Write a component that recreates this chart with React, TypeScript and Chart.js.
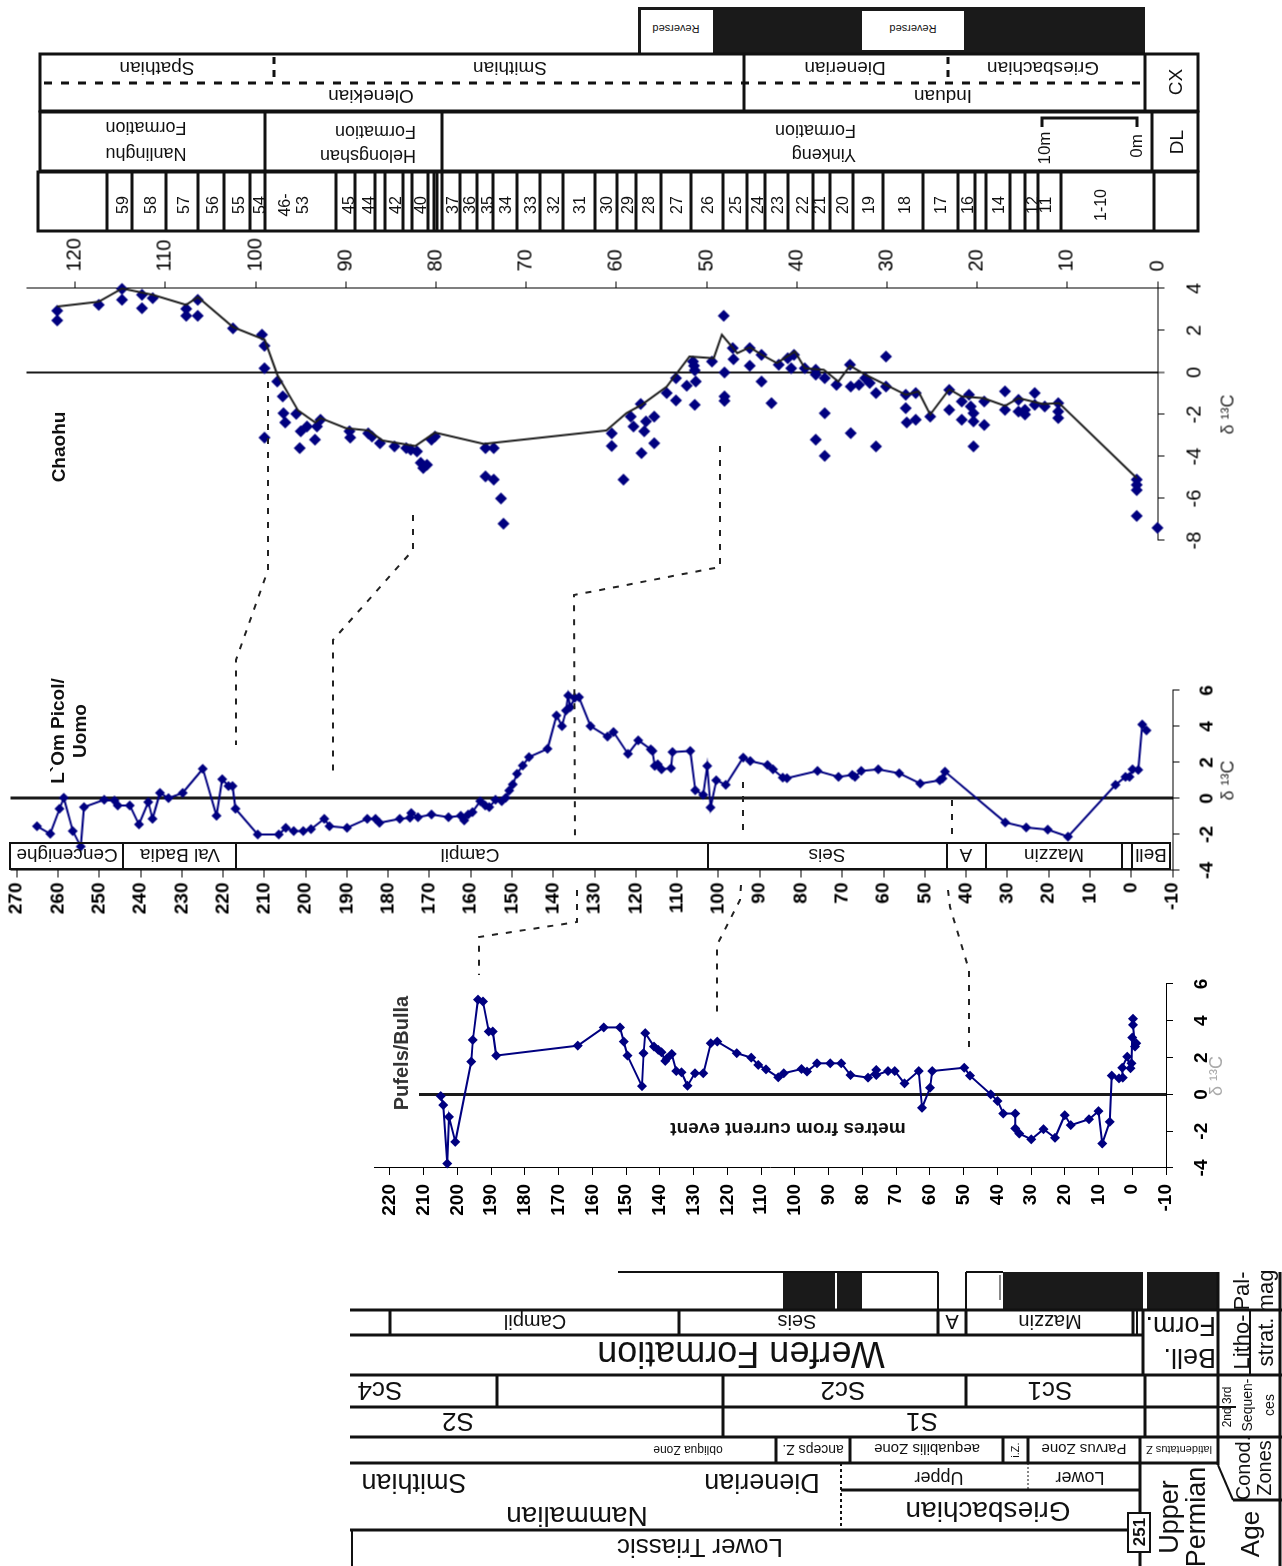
import React, { useEffect, useRef } from "react";
import { Chart, registerables } from "chart.js";
Chart.register(...registerables);

const FONT = "'Liberation Sans', Arial, Helvetica, sans-serif";

// ---------------- DATA ----------------
// Chaohu: [metres, δ13C]
const chaohuSamples: [number, number][] = [
  [122, 2.94], [122, 2.48], [117.4, 3.22], [114.8, 3.98], [114.8, 3.46], [112.6, 3.7], [112.6, 3.06],
  [111.4, 3.54], [107.7, 3.03], [107.7, 2.7], [106.4, 3.46], [106.4, 2.7], [102.5, 2.1], [99.3, 1.8],
  [99.0, 1.27], [99.0, 0.2], [99.0, -3.1], [97.6, -0.43], [97.0, -1.14], [96.9, -1.94], [96.7, -2.38],
  [95.5, -1.97], [95.1, -3.6], [95.0, -2.8], [94.3, -2.57], [93.4, -3.2], [93.2, -2.57], [92.8, -2.25],
  [89.6, -2.8], [89.5, -3.1], [87.5, -2.9], [87.1, -3.05], [86.2, -3.37], [84.6, -3.52], [83.3, -3.6],
  [82.8, -3.68], [82.1, -3.76], [81.7, -4.3], [81.4, -4.55], [81.0, -4.4], [80.5, -3.2], [80.1, -3.05],
  [74.5, -3.6], [73.6, -3.6], [74.5, -4.95], [73.6, -5.1], [72.8, -6.0], [72.5, -7.2], [60.5, -2.9],
  [60.5, -3.5], [59.2, -5.1], [58.4, -2.1], [58.1, -2.57], [57.3, -1.5], [57.2, -3.84], [56.9, -2.8],
  [56.7, -2.33], [55.8, -2.1], [55.8, -3.37], [54.4, -0.98], [53.4, -1.33], [53.4, -0.27], [52.2, -0.63],
  [51.5, 0.52], [51.4, 0.32], [51.3, 0.1], [51.2, -0.43], [51.3, -1.54], [49.4, 0.52], [48.1, 2.7],
  [48.0, 0.0], [48.0, -1.14], [48.0, -1.35], [47.1, 1.16], [47.0, 0.63], [45.2, 1.16], [45.2, 0.32],
  [43.9, 0.84], [43.9, -0.43], [42.8, -1.46], [42.0, 0.37], [41.0, 0.68], [40.6, 0.2], [40.3, 0.84],
  [39.1, 0.2], [37.9, 0.13], [37.9, -0.1], [37.9, -3.2], [36.9, -0.27], [36.9, -1.94], [36.9, -3.97],
  [35.6, -0.59], [34.1, 0.37], [34.0, -0.67], [34.0, -2.89], [33.1, -0.59], [32.4, -0.27], [31.9, -0.5],
  [31.2, -0.98], [31.2, -3.52], [30.1, 0.76], [30.1, -0.67], [27.9, -1.06], [27.9, -1.7], [27.8, -2.38],
  [26.8, -2.25], [26.8, -0.98], [25.2, -2.1], [23.1, -0.83], [23.1, -1.78], [21.7, -1.38], [21.7, -2.25],
  [20.9, -1.06], [20.7, -1.62], [20.4, -1.94], [20.4, -2.33], [20.4, -3.52], [19.2, -1.38], [19.2, -2.5],
  [16.9, -0.9], [16.9, -1.78], [15.4, -1.3], [15.4, -1.86], [14.7, -1.78], [14.7, -2.0], [13.6, -0.98],
  [13.6, -1.54], [12.5, -1.62], [11.0, -1.46], [11.0, -1.86], [11.0, -2.17], [2.3, -5.1], [2.3, -5.35],
  [2.3, -5.6], [2.3, -6.83], [0, -7.4],
];
// Chaohu trend line: [metres, δ13C]
const chaohuTrend: [number, number][] = [
  [122, 3.14], [117.4, 3.37], [114.8, 4.0], [111.4, 3.7], [107.7, 3.22], [106.4, 3.59], [102.5, 2.16],
  [99, 1.56], [97.6, -0.1], [95.3, -1.8], [93.4, -2.38], [92.8, -2.17], [90, -2.65], [87.5, -2.76],
  [85.9, -3.24], [82.3, -3.5], [80.1, -2.86], [74.7, -3.4], [61.1, -2.76], [58.9, -1.94], [57.2, -1.54],
  [54.4, -0.67], [51.9, 0.76], [49.2, 0.68], [48.3, 1.8], [46.6, 0.92], [45.2, 1.2], [43.9, 0.85],
  [42.2, 0.45], [40.2, 1.0], [39.1, 0.2], [37, 0.13], [35.4, -0.43], [34.1, 0.32], [32.4, -0.1],
  [27.9, -1.06], [26.5, -0.9], [25.2, -2.0], [23.1, -0.8], [21.7, -1.14], [19.3, -1.22], [16.9, -1.59],
  [15.4, -1.22], [12.7, -1.5], [10.9, -1.46], [2.3, -5.03],
];
// L`Om Picol / Uomo: [metres, δ13C]
const lomSamples: [number, number][] = [
  [265.1, -1.54], [261.9, -1.96], [259.6, -0.57], [258.6, 0.04], [256.4, -1.81], [254.5, -2.67],
  [253.7, -0.48], [248.8, -0.07], [246.3, -0.11], [245.5, -0.39], [242.6, -0.39], [240.4, -1.44],
  [238.1, -0.2], [237.1, -1.13], [235.3, 0.31], [233.2, 0.02], [229.8, 0.31], [224.9, 1.65],
  [221.6, -0.96], [220.2, 1.07], [218.7, 0.69], [217.7, 0.69], [217.0, -0.57], [211.6, -2.0],
  [206.5, -2.0], [204.8, -1.63], [202.9, -1.81], [200.6, -1.81], [198.7, -1.7], [195.5, -1.13],
  [194.2, -1.54], [190.0, -1.63], [185.1, -1.13], [183.1, -1.13], [182.1, -1.35], [177.2, -1.13],
  [174.7, -1.07], [174.4, -0.81], [172.8, -1.04], [169.5, -0.89], [165.4, -1.04], [162.4, -0.96],
  [161.6, -1.22], [160.6, -0.89], [159.6, -0.76], [157.7, -0.15], [156.5, -0.39], [155.5, -0.48],
  [154.0, -0.07], [152.5, -0.15], [151.5, 0.04], [150.7, 0.44], [149.8, 0.78], [148.8, 1.37],
  [147.4, 1.83], [145.9, 2.3], [141.4, 2.76], [139.2, 4.61], [137.9, 4.02], [136.9, 4.89],
  [136.4, 5.72], [135.9, 5.07], [134.8, 5.59], [133.8, 5.63], [131.0, 4.02], [126.9, 3.44],
  [125.4, 3.69], [121.9, 2.48], [119.4, 3.23], [116.4, 2.73], [116.0, 2.64], [115.4, 1.81],
  [114.7, 1.9], [113.8, 1.62], [111.5, 1.68], [111.1, 2.58], [106.8, 2.64], [105.6, 0.46],
  [103.7, 0.2], [102.7, 1.81], [101.9, -0.5], [100.5, 1.01], [98.2, 0.76], [94.0, 2.27], [92.3, 2.08],
  [88.1, 1.86], [86.8, 1.62], [84.4, 1.16], [83.4, 1.13], [76.0, 1.53], [70.9, 1.2], [67.6, 1.31],
  [66.9, 1.2], [65.4, 1.53], [61.3, 1.62], [56.2, 1.4], [51.1, 0.83], [46.4, 1.01], [45.7, 1.11],
  [45.1, 1.49], [30.5, -1.33], [25.4, -1.61], [20.2, -1.73], [15.3, -2.12], [3.8, 0.76], [1.4, 1.2],
  [0.4, 1.2], [-0.3, 1.62], [-1.7, 1.59], [-2.7, 4.11], [-3.7, 3.78],
];
// Pufels / Bulla: [metres, δ13C]
const pufelsSamples: [number, number][] = [
  [204.9, -0.09], [204.2, -0.58], [203.0, -3.76], [202.5, -1.22], [200.6, -2.58], [195.9, 1.78],
  [195.4, 2.96], [193.9, 5.15], [192.4, 5.05], [190.7, 3.42], [189.5, 3.42], [188.5, 2.11],
  [164.3, 2.65], [156.6, 3.64], [151.8, 3.64], [150.7, 2.87], [149.6, 2.11], [145.3, 0.45],
  [144.8, 2.24], [144.3, 3.33], [141.7, 2.6], [140.5, 2.42], [139.5, 2.29], [138.4, 1.82],
  [137.9, 1.96], [136.5, 2.2], [135.1, 1.27], [133.6, 1.2], [131.8, 0.47], [129.6, 1.15],
  [127.1, 1.15], [124.9, 2.78], [123.0, 2.87], [117.2, 2.24], [112.9, 2.0], [110.8, 1.6],
  [108.5, 1.36], [104.9, 0.93], [103.3, 1.15], [98.0, 1.38], [96.4, 1.24], [93.4, 1.69], [89.5, 1.69],
  [86.2, 1.69], [83.5, 1.05], [78.3, 0.91], [75.9, 1.33], [75.9, 1.05], [72.4, 1.27], [70.4, 1.27],
  [67.5, 0.6], [63.3, 1.27], [62.3, -0.73], [59.9, 0.36], [59.3, 1.27], [49.8, 1.45], [48.1, 1.02],
  [41.9, 0.0], [39.9, -0.36], [38.2, -1.04], [34.7, -1.04], [34.7, -1.85], [33.5, -2.13], [29.9, -2.44],
  [26.3, -1.89], [22.9, -2.36], [20.0, -1.13], [18.2, -1.67], [12.8, -1.35], [10.0, -0.91],
  [8.9, -2.67], [6.7, -1.49], [6.1, 1.02], [3.9, 0.87], [2.8, 0.91], [3.0, 1.45], [1.5, 2.05],
  [0.5, 1.42], [0.2, 1.69], [0.0, 3.09], [-1.2, 2.78], [-0.8, 2.6], [-0.2, 3.78], [-0.2, 4.11],
];
// Chaohu bed numbers (top column)
const chaohuBeds = ["59", "58", "57", "56", "55", "54", "46-\n53", "45", "44", "42", "40", "37", "36", "35", "34", "33", "32", "31", "30", "29", "28", "27", "26", "25", "24", "23", "22", "21", "20", "19", "18", "17", "16", "14", "12", "11", "1-10"];

// ---------------- LAYOUT ----------------
const bedLabelX = [122, 150, 183, 212, 238, 259, 293, 348, 368, 395, 420, 452, 469, 487, 505, 530, 553, 579, 606, 627, 648, 676, 707, 735, 757, 777, 802, 819, 842, 868, 904, 940, 967, 998, 1032, 1045, 1100];
const bedDividerX = [107, 132, 166, 198, 224, 250, 265, 336, 355, 375, 385, 403, 412, 428, 434, 437, 442, 460, 477, 493, 517, 540, 563, 595, 617, 636, 661, 691, 723, 747, 765, 788, 813, 830, 853, 883, 923, 958, 975, 986, 1010, 1025, 1038, 1061, 1154];

type PanelCfg = {
  box: { L: number; T: number; w: number; h: number };
  pad: { left: number; top: number; right: number };
  depthPos: "left" | "right";
  depthSize: number;
  dSize: number;
  depthRange: [number, number];
  dRange: [number, number];
  tickFont: any;
  depthTickPad: number;
  dTickPad: number;
  zeroWidth: number;
  titleColor: string;
  titlePadBottom: number;
  datasets: any[];
};

function RotatedPanel({ cfg }: { cfg: PanelCfg }) {
  const ref = useRef<HTMLCanvasElement | null>(null);
  useEffect(() => {
    const c = cfg;
    const chart = new Chart(ref.current as HTMLCanvasElement, {
      type: "scatter",
      data: { datasets: c.datasets },
      options: {
        animation: false,
        responsive: false,
        devicePixelRatio: 1,
        events: [],
        layout: { padding: { left: c.pad.left, top: c.pad.top, right: c.pad.right, bottom: 0 } },
        plugins: { legend: { display: false }, tooltip: { enabled: false } },
        scales: {
          x: {
            type: "linear",
            position: "bottom",
            min: c.dRange[0],
            max: c.dRange[1],
            afterFit: (s: any) => {
              s.height = c.dSize;
              s.paddingLeft = 0;
              s.paddingRight = 0;
            },
            ticks: { stepSize: 2, font: c.tickFont, color: "#000", maxRotation: 0, minRotation: 0, padding: c.dTickPad, includeBounds: false },
            grid: {
              drawOnChartArea: true,
              color: (ctx: any) => (ctx.tick && ctx.tick.value === 0 ? "#1a1a1a" : "rgba(0,0,0,0)"),
              lineWidth: (ctx: any) => (ctx.tick && ctx.tick.value === 0 ? c.zeroWidth : 1),
              tickColor: "#000",
              tickLength: 7,
              tickWidth: 1,
            },
            border: { display: true, color: "#000", width: 1 },
            title: {
              display: true,
              text: "δ ¹³C",
              color: c.titleColor,
              font: { family: FONT, size: 18 },
              padding: { top: 0, bottom: c.titlePadBottom },
            },
          },
          y: {
            type: "linear",
            position: c.depthPos,
            min: c.depthRange[0],
            max: c.depthRange[1],
            afterFit: (s: any) => {
              s.width = c.depthSize;
              s.paddingTop = 0;
              s.paddingBottom = 0;
            },
            ticks: { stepSize: 10, font: c.tickFont, color: "#000", padding: c.depthTickPad, includeBounds: false },
            grid: { drawOnChartArea: false, tickColor: "#000", tickLength: 7, tickWidth: 1 },
            border: { display: true, color: "#000", width: 1 },
          },
        },
      } as any,
    });
    return () => chart.destroy();
  }, []);
  const { L, T, w, h } = cfg.box;
  return (
    <div
      style={{
        position: "absolute",
        left: L + w / 2 - h / 2,
        top: T + h / 2 - w / 2,
        width: h,
        height: w,
        transform: "rotate(-90deg)",
      }}
    >
      <canvas ref={ref} width={h} height={w} style={{ display: "block", width: h, height: w }} />
    </div>
  );
}

const toXY = (arr: [number, number][]) => arr.map(([d, v]) => ({ x: v, y: d }));

const regFont = { family: FONT, size: 20 };
const boldFont = { family: FONT, size: 19, weight: "bold" };

const chaohuCfg: PanelCfg = {
  box: { L: 20, T: 230, w: 1225, h: 330 },
  pad: { left: 20, top: 6, right: 0 },
  depthPos: "right",
  depthSize: 58,
  dSize: 88,
  depthRange: [0, 125.4],
  dRange: [-8, 4],
  tickFont: regFont,
  depthTickPad: 10,
  dTickPad: 18,
  zeroWidth: 2,
  titleColor: "#333",
  titlePadBottom: 6,
  datasets: [
    { data: toXY(chaohuTrend), showLine: true, borderColor: "#1e1e1e", borderWidth: 2, pointRadius: 0, clip: false },
    { data: toXY(chaohuSamples), showLine: false, pointStyle: "rectRot", pointRadius: 6, backgroundColor: "#00007f", borderColor: "#00007f", borderWidth: 0, clip: false },
  ],
};

const lomCfg: PanelCfg = {
  box: { L: 0, T: 660, w: 1245, h: 260 },
  pad: { left: 0, top: 10, right: 30 },
  depthPos: "left",
  depthSize: 50,
  dSize: 73,
  depthRange: [-10, 271.5],
  dRange: [-4, 6],
  tickFont: boldFont,
  depthTickPad: 5,
  dTickPad: 16,
  zeroWidth: 3,
  titleColor: "#333",
  titlePadBottom: 6,
  datasets: [
    { data: toXY(lomSamples), showLine: true, borderColor: "#000080", borderWidth: 2, pointStyle: "rectRot", pointRadius: 5, backgroundColor: "#000080", pointBorderColor: "#000080", pointBorderWidth: 0, clip: false },
  ],
};

const pufelsCfg: PanelCfg = {
  box: { L: 360, T: 970, w: 880, h: 260 },
  pad: { left: 0, top: 14, right: 14 },
  depthPos: "left",
  depthSize: 62,
  dSize: 74,
  depthRange: [-10, 224.7],
  dRange: [-4, 6],
  tickFont: boldFont,
  depthTickPad: 9,
  dTickPad: 17,
  zeroWidth: 3,
  titleColor: "#aaa",
  titlePadBottom: 12,
  datasets: [
    { data: toXY(pufelsSamples), showLine: true, borderColor: "#000080", borderWidth: 2, pointStyle: "rectRot", pointRadius: 5, backgroundColor: "#000080", pointBorderColor: "#000080", pointBorderWidth: 0, clip: false },
  ],
};

// ---------------- SVG helpers ----------------
function Tx({ x, y, s, r = 0, t, bold = false, anchor = "middle", fill = "#111", lh = 1.15 }: any) {
  const arr = String(t).split("\n");
  const n = arr.length;
  return (
    <text
      x={x}
      y={y}
      fontSize={s}
      fontFamily={FONT}
      fontWeight={bold ? "bold" : "normal"}
      textAnchor={anchor}
      dominantBaseline="central"
      fill={fill}
      transform={r ? `rotate(${r} ${x} ${y})` : undefined}
    >
      {arr.map((line, i) => (
        <tspan key={i} x={x} y={y + (i - (n - 1) / 2) * s * lh}>
          {line}
        </tspan>
      ))}
    </text>
  );
}
function Ln({ x1, y1, x2, y2, w = 3, dash }: any) {
  return <line x1={x1} y1={y1} x2={x2} y2={y2} stroke="#111" strokeWidth={w} strokeDasharray={dash} />;
}

function Overlay() {
  return (
    <svg width={1282} height={1566} style={{ position: "absolute", left: 0, top: 0, pointerEvents: "none" }}>
      {/* ===== Top column (Chaohu) ===== */}
      <rect x={638} y={7} width={507} height={46} fill="#1a1a1a" />
      <rect x={641} y={10} width={72} height={43} fill="#fff" />
      <rect x={862} y={11} width={102} height={39} fill="#fff" />
      <Tx x={676} y={29} s={11} r={180} t="Reversed" />
      <Tx x={913} y={29} s={11} r={180} t="Reversed" />

      <rect x={40} y={54} width={1158} height={57} fill="none" stroke="#111" strokeWidth={3} />
      <Ln x1={744} y1={54} x2={744} y2={111} />
      <Ln x1={1145} y1={54} x2={1145} y2={111} />
      <Ln x1={44} y1={83} x2={1141} y2={83} dash="8 9" />
      <Ln x1={274} y1={57} x2={274} y2={82} dash="7 6" />
      <Ln x1={948} y1={57} x2={948} y2={82} dash="7 6" />
      <Tx x={157} y={69} s={19} r={180} t="Spathian" />
      <Tx x={510} y={69} s={19} r={180} t="Smithian" />
      <Tx x={845} y={69} s={19} r={180} t="Dienerian" />
      <Tx x={1043} y={69} s={19} r={180} t="Griesbachian" />
      <Tx x={371} y={97} s={19} r={180} t="Olenekian" />
      <Tx x={943} y={97} s={19} r={180} t="Induan" />
      <Tx x={1175} y={82} s={19} r={-90} t="CX" />

      <rect x={40} y={112} width={1158} height={59} fill="none" stroke="#111" strokeWidth={3} />
      <Ln x1={265} y1={112} x2={265} y2={171} />
      <Ln x1={442} y1={112} x2={442} y2={171} />
      <Ln x1={1152} y1={112} x2={1152} y2={171} />
      <Tx x={146} y={141} s={18} r={180} t={"Nanlinghu\nFormation"} lh={1.45} />
      <Tx x={416} y={144} s={18} r={180} anchor="start" t={"Helongshan\nFormation"} lh={1.3} />
      <Tx x={856} y={143} s={18} r={180} anchor="start" t={"Yinkeng\nFormation"} lh={1.3} />
      <polyline points="1042,127 1042,118 1137,118 1137,127" fill="none" stroke="#111" strokeWidth={3} />
      <Tx x={1044} y={148} s={17} r={-90} t="10m" />
      <Tx x={1136} y={146} s={17} r={-90} t="0m" />
      <Tx x={1176} y={142} s={19} r={-90} t="DL" />

      <rect x={38} y={172} width={1160} height={59} fill="none" stroke="#111" strokeWidth={3} />
      {bedDividerX.map((x, i) => (
        <Ln key={"bd" + i} x1={x} y1={172} x2={x} y2={231} w={3} />
      ))}
      {chaohuBeds.map((b, i) => (
        <Tx key={"bl" + i} x={bedLabelX[i]} y={205} s={16} r={-90} t={b} lh={1.1} />
      ))}

      {/* ===== Chart titles ===== */}
      <Tx x={58} y={447} s={19} r={-90} bold t="Chaohu" />
      <Tx x={68} y={731} s={19} r={-90} bold t={"L`Om Picol/\nUomo"} lh={1.2} />
      <rect x={370} y={1089} width={49} height={11} fill="#fff" />
      <Tx x={401} y={1053} s={20} r={-90} bold fill="#333" t="Pufels/Bulla" />
      <Tx x={788} y={1130} s={19} r={180} bold t="metres from current event" />

      {/* ===== L`Om formation strip ===== */}
      <rect x={10} y={843} width={1160} height={26} fill="none" stroke="#111" strokeWidth={2} />
      {[123, 236, 708, 947, 986, 1122, 1132].map((x, i) => (
        <Ln key={"ls" + i} x1={x} y1={843} x2={x} y2={869} w={2} />
      ))}
      <Tx x={67} y={856} s={19} r={180} t="Cencenighe" />
      <Tx x={180} y={856} s={19} r={180} t="Val Badia" />
      <Tx x={470} y={856} s={19} r={180} t="Campil" />
      <Tx x={827} y={856} s={19} r={180} t="Seis" />
      <Tx x={966} y={856} s={19} r={180} t="A" />
      <Tx x={1054} y={856} s={19} r={180} t="Mazzin" />
      <Tx x={1151} y={856} s={19} r={180} t="Bell" />

      {/* ===== correlation lines ===== */}
      <g fill="none" stroke="#222" strokeWidth={2} strokeDasharray="6 8">
        <polyline points="268,382 268,570 236,660 236,745" />
        <polyline points="413,515 413,550 333,640 333,772" />
        <polyline points="720,446 720,567 574,595 575,840" />
        <polyline points="577,890 577,922 479,937 479,975" />
        <polyline points="743,782 743,835" />
        <polyline points="741,885 740,900 717,945 717,1012" />
        <polyline points="952,800 952,840" />
        <polyline points="948,890 950,907 969,970 969,1053" />
      </g>

      {/* ===== Bottom column (Dolomites) ===== */}
      <Ln x1={618} y1={1272} x2={938} y2={1272} w={2} />
      <Ln x1={938} y1={1272} x2={938} y2={1310} w={2} />
      <rect x={783} y={1273} width={52} height={37} fill="#1a1a1a" />
      <rect x={837} y={1273} width={25} height={37} fill="#1a1a1a" />
      <Ln x1={966} y1={1272} x2={966} y2={1310} w={2} />
      <Ln x1={966} y1={1272} x2={1003} y2={1272} w={2} />
      <Ln x1={1000} y1={1275} x2={1000} y2={1300} w={1} />
      <rect x={1003} y={1272} width={140} height={38} fill="#1a1a1a" />
      <rect x={1147} y={1272} width={71} height={38} fill="#1a1a1a" />

      <Ln x1={350} y1={1310} x2={1282} y2={1310} />
      <Ln x1={350} y1={1335} x2={1143} y2={1335} />
      <Ln x1={350} y1={1375} x2={1282} y2={1375} />
      <Ln x1={350} y1={1407} x2={1218} y2={1407} />
      <Ln x1={350} y1={1437} x2={1282} y2={1437} />
      <Ln x1={350} y1={1463} x2={1218} y2={1463} />
      <Ln x1={841} y1={1490} x2={1140} y2={1490} />
      <Ln x1={350} y1={1530} x2={1140} y2={1530} />
      <Ln x1={352} y1={1530} x2={352} y2={1566} w={2} />

      {[390, 679, 938, 966, 1133, 1137].map((x, i) => (
        <Ln key={"lf" + i} x1={x} y1={1310} x2={x} y2={1335} w={x === 1137 ? 2 : 3} />
      ))}
      <Ln x1={1143} y1={1310} x2={1143} y2={1375} />
      {[497, 723, 966].map((x, i) => (
        <Ln key={"sc" + i} x1={x} y1={1375} x2={x} y2={1407} />
      ))}
      <Ln x1={723} y1={1407} x2={723} y2={1437} />
      <Ln x1={1145} y1={1375} x2={1145} y2={1437} />
      {[776, 850, 1003, 1028].map((x, i) => (
        <Ln key={"cz" + i} x1={x} y1={1437} x2={x} y2={1463} />
      ))}
      <Ln x1={1140} y1={1437} x2={1140} y2={1566} />
      <Ln x1={841} y1={1463} x2={841} y2={1530} w={2} dash="3 3" />
      <Ln x1={1028} y1={1463} x2={1028} y2={1490} w={1} dash="2 2" />

      <Ln x1={1218} y1={1272} x2={1218} y2={1465} />
      <Ln x1={1218} y1={1465} x2={1233} y2={1500} w={2} />
      <Ln x1={1233} y1={1500} x2={1282} y2={1500} />
      <Ln x1={1280} y1={1272} x2={1280} y2={1566} />
      <Ln x1={1250} y1={1310} x2={1250} y2={1375} w={2} />
      <Ln x1={1218} y1={1407} x2={1236} y2={1407} w={2} />

      <Tx x={535} y={1322} s={20} r={180} t="Campil" />
      <Tx x={797} y={1322} s={20} r={180} t="Seis" />
      <Tx x={952} y={1322} s={20} r={180} t="A" />
      <Tx x={1050} y={1322} s={20} r={180} t="Mazzin" />
      <Tx x={741} y={1355} s={36} r={180} t="Werfen Formation" />
      <Tx x={1216} y={1342} s={27} r={180} anchor="start" t={"Bell.\nForm."} lh={1.2} />
      <Tx x={380} y={1391} s={26} r={180} t="Sc4" />
      <Tx x={843} y={1391} s={26} r={180} t="Sc2" />
      <Tx x={1050} y={1391} s={26} r={180} t="Sc1" />
      <Tx x={458} y={1422} s={26} r={180} t="S2" />
      <Tx x={922} y={1422} s={26} r={180} t="S1" />
      <Tx x={688} y={1450} s={12} r={180} t="obliqua Zone" />
      <Tx x={813} y={1450} s={14} r={180} t="anceps Z." />
      <Tx x={927} y={1450} s={15} r={180} t="aequabilis Zone" />
      <Tx x={1015} y={1450} s={11} r={-90} t="i.Z." />
      <Tx x={1084} y={1450} s={15} r={180} t="Parvus Zone" />
      <Tx x={1179} y={1450} s={11} r={180} t="latidentatus Z" />
      <Tx x={414} y={1483} s={27} r={180} t="Smithian" />
      <Tx x={762} y={1483} s={27} r={180} t="Dienerian" />
      <Tx x={939} y={1478} s={18} r={180} t="Upper" />
      <Tx x={1080} y={1478} s={18} r={180} t="Lower" />
      <Tx x={577} y={1517} s={28} r={180} t="Nammalian" />
      <Tx x={988} y={1512} s={28} r={180} t="Griesbachian" />
      <Tx x={700} y={1548} s={26} r={180} t="Lower Triassic" />
      <Tx x={1182} y={1517} s={27} r={-90} t={"Upper\nPermian"} lh={1.0} />
      <rect x={1128} y={1513} width={22} height={39} fill="#fff" stroke="#111" strokeWidth={2} />
      <Tx x={1139} y={1532} s={17} r={-90} bold t="251" />

      <Tx x={1253} y={1291} s={22} r={-90} t={"Pal-\nmag"} lh={1.1} />
      <Tx x={1253} y={1342} s={22} r={-90} t={"Litho-\nstrat."} lh={1.1} />
      <Tx x={1227} y={1407} s={12} r={-90} t="2nd 3rd" />
      <Tx x={1258} y={1405} s={14} r={-90} t={"Sequen-\nces"} lh={1.6} />
      <Tx x={1253} y={1468} s={20} r={-90} t={"Conod.\nZones"} lh={1.05} />
      <Tx x={1250} y={1534} s={26} r={-90} t="Age" />
    </svg>
  );
}

export default function App() {
  return (
    <div style={{ position: "absolute", left: 0, top: 0, width: 1282, height: 1566, overflow: "hidden", background: "#fff" }}>
      <RotatedPanel cfg={chaohuCfg} />
      <RotatedPanel cfg={lomCfg} />
      <RotatedPanel cfg={pufelsCfg} />
      <Overlay />
    </div>
  );
}
